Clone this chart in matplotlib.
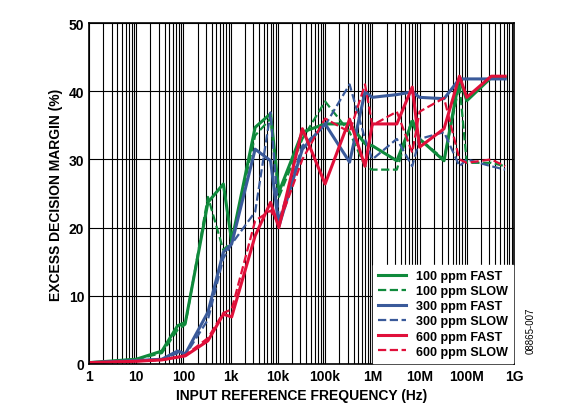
import matplotlib
matplotlib.use("Agg")
import matplotlib.pyplot as plt
from matplotlib.ticker import LogLocator, NullFormatter

plt.rcParams['font.family'] = ['Liberation Sans', 'DejaVu Sans']
plt.rcParams['font.weight'] = 'bold'

freq = [1, 10, 35, 75, 110, 330, 700, 1050, 3300, 7000, 10500, 33000, 100e3, 330e3,
        700e3, 1e6, 3.3e6, 7e6, 10e6, 33e6, 70e6, 100e6, 330e6, 650e6]
g_fast = [0.2, 0.7, 1.9, 5.6, 6.1, 23.7, 26.4, 18.0, 34.7, 36.7, 25.2, 34.0, 35.2, 35.2,
          32.3, 32.0, 29.8, 35.5, 33.0, 29.8, 42.0, 38.6, 42.0, 42.0]
g_slow = [0.2, 0.7, 1.6, 5.0, 5.8, 24.5, 16.7, 18.0, 33.5, 36.0, 24.5, 33.0, 38.5, 34.0,
          29.0, 28.5, 28.5, 36.0, 33.0, 30.0, 41.0, 29.5, 29.5, 29.0]
b_fast = [0.2, 0.5, 0.7, 1.9, 1.5, 7.6, 16.4, 17.6, 31.5, 29.8, 20.2, 31.5, 35.2, 29.6,
          39.9, 39.1, 39.5, 39.9, 39.1, 38.9, 41.8, 41.8, 41.8, 41.8]
b_slow = [0.2, 0.5, 0.7, 1.6, 1.3, 6.5, 15.5, 17.6, 22.3, 36.9, 21.0, 32.0, 35.0, 41.0,
          33.0, 30.0, 33.0, 29.0, 33.0, 34.0, 29.0, 30.0, 29.0, 28.5]
r_fast = [0.2, 0.4, 0.6, 1.0, 1.2, 3.4, 7.3, 6.9, 18.8, 23.7, 20.0, 34.5, 26.4, 35.9,
          29.0, 35.2, 35.2, 40.6, 31.8, 34.5, 42.2, 39.1, 42.2, 42.2]
r_slow = [0.2, 0.4, 0.6, 1.0, 1.3, 3.8, 7.5, 8.0, 21.0, 22.5, 20.5, 30.0, 36.0, 34.0,
          41.0, 35.0, 37.0, 31.0, 37.0, 39.0, 30.0, 29.5, 30.0, 29.0]
labels = ["100 ppm FAST", "100 ppm SLOW", "300 ppm FAST", "300 ppm SLOW", "600 ppm FAST", "600 ppm SLOW"]
xticks = [1, 10, 100, 1e3, 1e4, 1e5, 1e6, 1e7, 1e8, 1e9]
xticklabels = ["1", "10", "100", "1k", "10k", "100k", "1M", "10M", "100M", "1G"]

green, blue, red = "#108a3c", "#3a5a9a", "#e0103a"
fig = plt.figure(figsize=(5.68, 4.14), dpi=100)
ax = fig.add_axes([89/568, 49/414, 425/568, 341/414])
series = [(g_fast, green, '-', 2.2), (g_slow, green, '--', 1.6), (b_fast, blue, '-', 2.2),
          (b_slow, blue, '--', 1.6), (r_fast, red, '-', 2.2), (r_slow, red, '--', 1.6)]
for (y, c, ls, lw), lab in zip(series, labels):
    ax.plot(freq, y, color=c, ls=ls, lw=lw, label=lab)
ax.set_xscale('log')
ax.set_xlim(1, 1e9)
ax.set_ylim(0, 50)
ax.set_xticks(xticks)
ax.set_xticklabels(xticklabels)
ax.xaxis.set_minor_locator(LogLocator(base=10, subs=range(2, 10), numticks=100))
ax.xaxis.set_minor_formatter(NullFormatter())
ax.set_yticks(range(0, 51, 10))
ax.grid(True, which='both', axis='x', color='black', lw=0.8)
ax.grid(True, which='major', axis='y', color='black', lw=0.8)
ax.tick_params(which='both', length=0, labelsize=10)
for s in ax.spines.values():
    s.set_linewidth(1.2)
ax.set_xlabel("INPUT REFERENCE FREQUENCY (Hz)", fontsize=10, fontweight='bold')
ax.set_ylabel("EXCESS DECISION MARGIN (%)", fontsize=10, fontweight='bold')
leg = ax.legend(loc='lower right', fontsize=9, frameon=True, fancybox=False,
                framealpha=1, edgecolor='white', borderaxespad=0.1, handlelength=2.2,
                labelspacing=0.25)
fig.text(0.935, 0.2, "08865-007", rotation=90, fontsize=7, fontweight='normal', ha='center', va='center')
fig.savefig("out.png", dpi=100)
